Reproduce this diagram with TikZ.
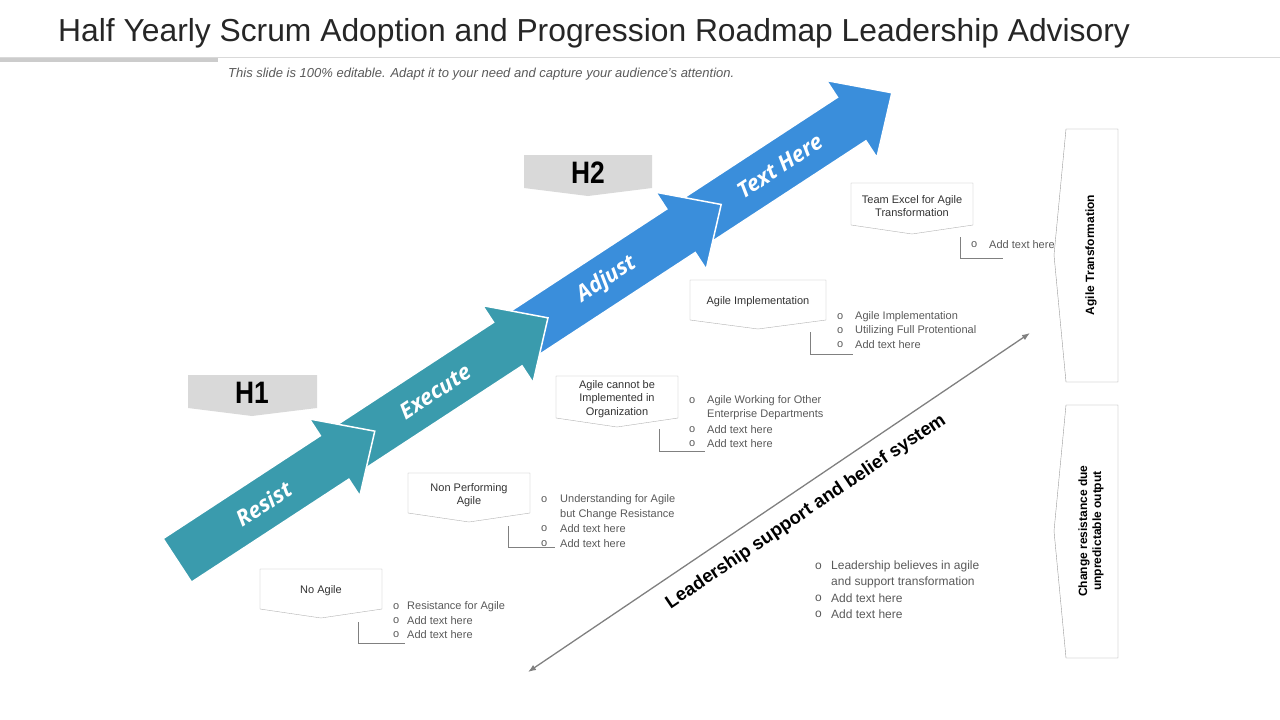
\documentclass[tikz,border=0pt]{standalone}
\usepackage{fontspec}
\setmainfont{Liberation Sans}
\newfontfamily\osans{Open Sans}
\usetikzlibrary{arrows.meta}
\definecolor{teal1}{HTML}{3A9BAD}
\definecolor{blue1}{HTML}{3A8EDB}
\definecolor{gbox}{HTML}{D9D9D9}
\definecolor{gtxt}{HTML}{595959}
\newcommand\arrowseg[3]{\fill[#3,draw=white,line width=1.5pt] (#1,-26)--({#2},-26)--({#2},-46)--({#2+48},0)--({#2},46)--({#2},26)--(#1,26)--cycle;}
\newcommand\callout[6]{% name, x1,y1,x2,y2, text
\draw[gray!60,fill=white] (#2,#3)--(#4,#3)--(#4,#5)--({(#2+#4)/2},{#5+9})--(#2,#5)--cycle;
\node[font=\fontsize{11}{13.5}\selectfont,align=center,text=black!80] (#1) at ({(#2+#4)/2},{(#3+#5)/2+2}) {#6};}
\tikzset{bul/.style={font=\fontsize{11}{13}\selectfont,text=gtxt,anchor=west,inner sep=0},
 bigbul/.style={font=\fontsize{12}{14}\selectfont,text=gtxt,anchor=west,inner sep=0},
 seglbl/.style={font=\osans\bfseries\itshape\fontsize{22}{24}\selectfont,text=white,rotate=33.2},
 bracket/.style={draw=gray,line width=0.8pt}}
\begin{document}
\begin{tikzpicture}[x=1pt,y=-1pt]
\useasboundingbox (0,0) rectangle (1280,720);
% title
\node[anchor=west,font=\fontsize{31.8}{34}\selectfont,text=black!85,inner sep=0] (title) at (58,33) {Half Yearly Scrum Adoption and Progression Roadmap Leadership Advisory};
\draw[gray!30,line width=0.8pt] (0,57)--(1280,57);
\draw[gray!40,line width=4pt] (0,60)--(218,60);
\node[anchor=west,font=\itshape\fontsize{13}{15}\selectfont,text=gtxt,inner sep=0] (sub) at (228,74) {This slide is 100\% editable. Adapt it to your need and capture your audience's attention.};
% big arrows
\begin{scope}[shift={(184,556)},rotate=33.2]
\arrowseg{594}{798}{blue1}
\arrowseg{387}{594}{blue1}
\arrowseg{180}{387}{teal1}
\arrowseg{-8}{180}{teal1}
\node[seglbl] (t1) at (95,0) {Resist};
\node[seglbl] (t2) at (300,0) {Execute};
\node[seglbl] (t3) at (505,0) {Adjust};
\node[seglbl] (t4) at (712,0) {Text Here};
\end{scope}
% H boxes
\fill[gbox] (188,375)--(317,375)--(317,408)--(252,416)--(188,408)--cycle;
\node[font=\bfseries\fontsize{31}{33}\selectfont,xscale=0.85] (h1) at (252,393) {H1};
\fill[gbox] (524,155)--(652,155)--(652,188)--(588,196)--(524,188)--cycle;
\node[font=\bfseries\fontsize{31}{33}\selectfont,xscale=0.85] (h2) at (588,173) {H2};
% callouts
\callout{c1}{260}{569}{382}{609}{No Agile}
\callout{c2}{408}{473}{530}{513}{Non Performing\\Agile}
\callout{c3}{556}{376}{678}{418}{Agile cannot be\\Implemented in\\Organization}
\callout{c4}{690}{280}{826}{320}{Agile Implementation}
\callout{c5}{851}{183}{973}{225}{Team Excel for Agile\\Transformation}
% brackets
\draw[bracket] (358,622)--(358,643)--(405,643);
\draw[bracket] (508,526)--(508,547)--(555,547);
\draw[bracket] (659,429)--(659,451)--(705,451);
\draw[bracket] (810,332)--(810,354)--(853,354);
\draw[bracket] (960,237)--(960,258)--(1003,258);
% bullet lists
\foreach \y/\t in {607/Resistance  for Agile,621/Add text here,635/Add text here}{\node[bul] at (393,\y) {o}; \node[bul] at (407,\y) {\t};}
\foreach \y/\t in {500/Understanding  for Agile,529/Add text here,544/Add text here}{\node[bul] at (541,\y) {o}; \node[bul] at (560,\y) {\t};}
\node[bul] (np2) at (560,515) {but Change Resistance};
\foreach \y/\t in {401/Agile Working for Other,430/Add text here,444/Add text here}{\node[bul] at (689,\y) {o}; \node[bul] at (707,\y) {\t};}
\node[bul] (ac2) at (707,415) {Enterprise Departments};
\foreach \y/\t in {317/Agile Implementation,331/Utilizing  Full Protentional,345/Add text here}{\node[bul] at (837,\y) {o}; \node[bul] at (855,\y) {\t};}
\node[bul] at (971,245) {o}; \node[bul] (te1) at (989,245) {Add text here};
\foreach \y/\t in {566/Leadership believes in agile,598/Add text here,614/Add text here}{\node[bigbul] at (815,\y) {o}; \node[bigbul] at (831,\y) {\t};}
\node[bigbul] (lb2) at (831,582) {and support transformation};
% leadership double arrow
\coordinate (la) at (528,672);
\coordinate (lb) at (1030,333);
\draw[gray,line width=1.3pt,{Latex[length=8pt,width=6pt]}-{Latex[length=8pt,width=6pt]}] (la)--(lb);
\node[font=\bfseries\fontsize{18.5}{20}\selectfont,rotate=34] (lbl) at (806,512) {Leadership support and belief system};
% right boxes
\draw[gray!80,fill=white] (1066,129)--(1118,129)--(1118,382)--(1066,382)--(1054,255)--cycle;
\node[font=\bfseries\fontsize{12}{14}\selectfont,rotate=90] (r1) at (1091,255) {Agile Transformation};
\draw[gray!80,fill=white] (1066,405)--(1118,405)--(1118,658)--(1066,658)--(1054,531)--cycle;
\node[font=\bfseries\fontsize{12}{14}\selectfont,rotate=90,align=center] (r2) at (1091,531) {Change resistance due\\unpredictable output};
\end{tikzpicture}
\end{document}
